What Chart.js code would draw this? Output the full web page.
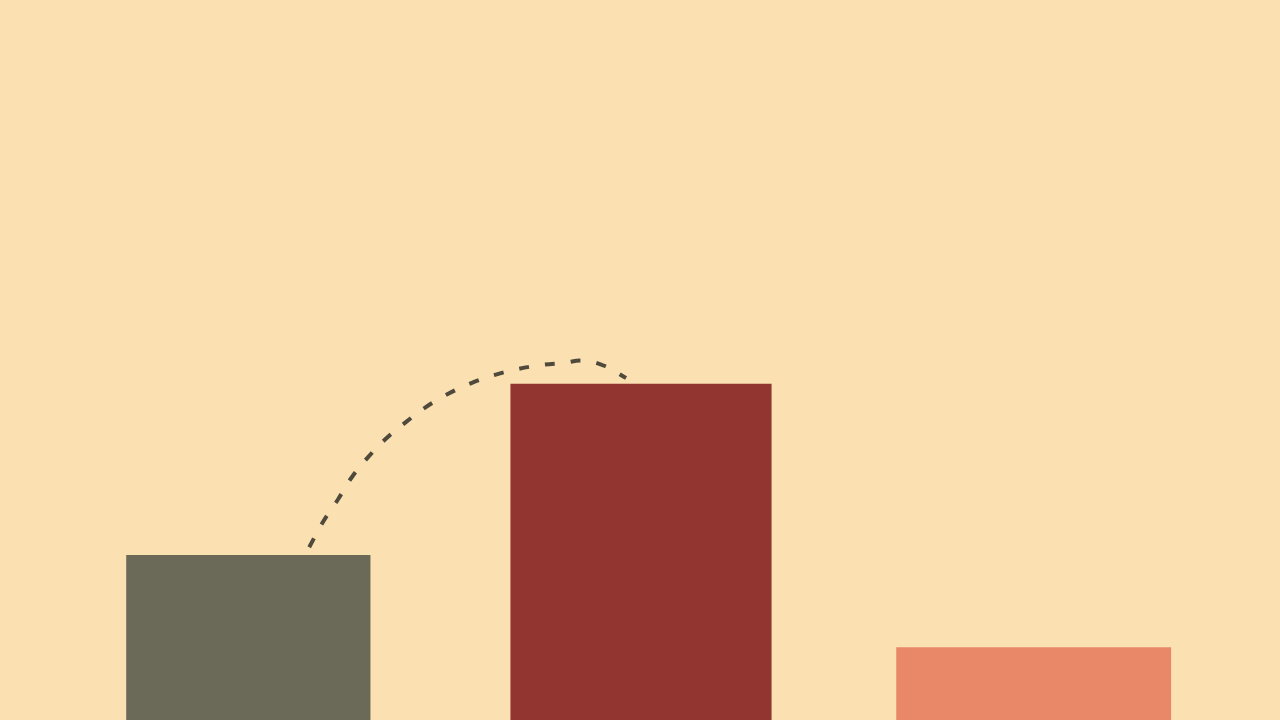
<!DOCTYPE html>
<html>
<head>
<meta charset="utf-8">
<script src="https://cdn.jsdelivr.net/npm/chart.js@4"></script>
<style>
html,body{margin:0;padding:0;background:#fbe1b2;overflow:hidden;}
#wrap{width:1280px;height:720px;position:relative;}
</style>
</head>
<body>
<div id="wrap"><canvas id="c"></canvas></div>
<script>
const categories = ["A", "B", "C"];
const barValues = [22.9, 46.7, 10.1];
const barColors = ["#6b6a58", "#923530", "#e88868"];
const barWidths = [0.622, 0.665, 0.70];
const curveX = [0.155, 0.190, 0.229, 0.264, 0.305, 0.353, 0.402, 0.453, 0.509, 0.568, 0.626, 0.687, 0.746, 0.802, 0.853, 0.906, 0.962];
const curveY = [24.0, 27.5, 30.7, 33.75, 36.5, 39.2, 41.4, 43.5, 45.3, 46.8, 47.9, 48.75, 49.3, 49.6, 49.9, 49.2, 47.5];

const datasets = categories.map((c, i) => ({
  type: 'bar',
  label: c,
  data: categories.map((_, j) => j === i ? barValues[i] : null),
  backgroundColor: barColors[i],
  borderWidth: 0,
  barPercentage: barWidths[i],
  categoryPercentage: 1,
  grouped: false,
  xAxisID: 'x',
  yAxisID: 'y'
}));
datasets.push({
  type: 'line',
  label: 'curve',
  data: curveX.map((x, i) => ({x: x, y: curveY[i]})),
  borderColor: '#4f4a3c',
  borderWidth: 4,
  borderDash: [10, 16],
  borderCapStyle: 'butt',
  pointRadius: 0,
  tension: 0.4,
  fill: false,
  xAxisID: 'xl',
  yAxisID: 'y'
});

new Chart(document.getElementById('c'), {
  data: { labels: categories, datasets: datasets },
  options: {
    responsive: true,
    maintainAspectRatio: false,
    animation: false,
    layout: { padding: { left: 52, right: 50, top: 0, bottom: 0 } },
    plugins: { legend: { display: false }, tooltip: { enabled: false } },
    scales: {
      x: { type: 'category', display: false, offset: true },
      xl: { type: 'linear', display: false, min: -0.5, max: 2.5 },
      y: { type: 'linear', display: false, min: 0, max: 100 }
    }
  }
});
</script>
</body>
</html>
